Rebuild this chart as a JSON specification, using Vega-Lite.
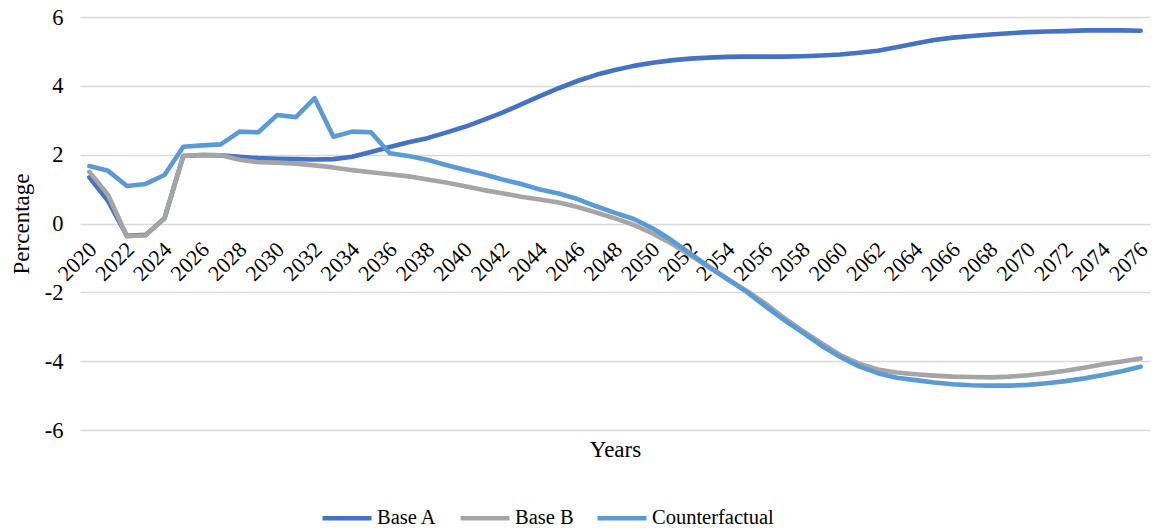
{
  "$schema": "https://vega.github.io/schema/vega-lite/v6.json",
  "width": 1070,
  "height": 413,
  "autosize": "none",
  "padding": {"left": 80, "top": 17, "right": 5, "bottom": 101},
  "background": "white",
  "config": {"view": {"stroke": null}, "font": "Liberation Serif"},
  "data": {"values": [
    {"year": 2020, "Base A": 1.34, "Base B": 1.50, "Counterfactual": 1.67},
    {"year": 2021, "Base A": 0.65, "Base B": 0.83, "Counterfactual": 1.53},
    {"year": 2022, "Base A": -0.36, "Base B": -0.37, "Counterfactual": 1.09},
    {"year": 2023, "Base A": -0.33, "Base B": -0.34, "Counterfactual": 1.15},
    {"year": 2024, "Base A": 0.15, "Base B": 0.15, "Counterfactual": 1.41},
    {"year": 2025, "Base A": 1.96, "Base B": 1.96, "Counterfactual": 2.23},
    {"year": 2026, "Base A": 1.99, "Base B": 1.99, "Counterfactual": 2.27},
    {"year": 2027, "Base A": 1.98, "Base B": 1.98, "Counterfactual": 2.30},
    {"year": 2028, "Base A": 1.94, "Base B": 1.85, "Counterfactual": 2.67},
    {"year": 2029, "Base A": 1.90, "Base B": 1.78, "Counterfactual": 2.65},
    {"year": 2030, "Base A": 1.88, "Base B": 1.77, "Counterfactual": 3.15},
    {"year": 2031, "Base A": 1.87, "Base B": 1.74, "Counterfactual": 3.09},
    {"year": 2032, "Base A": 1.86, "Base B": 1.69, "Counterfactual": 3.64},
    {"year": 2033, "Base A": 1.87, "Base B": 1.63, "Counterfactual": 2.52},
    {"year": 2034, "Base A": 1.94, "Base B": 1.55, "Counterfactual": 2.67},
    {"year": 2035, "Base A": 2.08, "Base B": 1.49, "Counterfactual": 2.65},
    {"year": 2036, "Base A": 2.22, "Base B": 1.43, "Counterfactual": 2.04},
    {"year": 2037, "Base A": 2.36, "Base B": 1.37, "Counterfactual": 1.96},
    {"year": 2038, "Base A": 2.48, "Base B": 1.28, "Counterfactual": 1.85},
    {"year": 2039, "Base A": 2.64, "Base B": 1.19, "Counterfactual": 1.70},
    {"year": 2040, "Base A": 2.81, "Base B": 1.08, "Counterfactual": 1.56},
    {"year": 2041, "Base A": 3.01, "Base B": 0.97, "Counterfactual": 1.43},
    {"year": 2042, "Base A": 3.22, "Base B": 0.88, "Counterfactual": 1.28},
    {"year": 2043, "Base A": 3.46, "Base B": 0.78, "Counterfactual": 1.15},
    {"year": 2044, "Base A": 3.70, "Base B": 0.70, "Counterfactual": 0.99},
    {"year": 2045, "Base A": 3.93, "Base B": 0.61, "Counterfactual": 0.87},
    {"year": 2046, "Base A": 4.14, "Base B": 0.48, "Counterfactual": 0.71},
    {"year": 2047, "Base A": 4.32, "Base B": 0.32, "Counterfactual": 0.50},
    {"year": 2048, "Base A": 4.46, "Base B": 0.15, "Counterfactual": 0.31},
    {"year": 2049, "Base A": 4.58, "Base B": -0.04, "Counterfactual": 0.13},
    {"year": 2050, "Base A": 4.67, "Base B": -0.29, "Counterfactual": -0.14},
    {"year": 2051, "Base A": 4.74, "Base B": -0.58, "Counterfactual": -0.48},
    {"year": 2052, "Base A": 4.79, "Base B": -0.92, "Counterfactual": -0.87},
    {"year": 2053, "Base A": 4.82, "Base B": -1.27, "Counterfactual": -1.25},
    {"year": 2054, "Base A": 4.84, "Base B": -1.62, "Counterfactual": -1.62},
    {"year": 2055, "Base A": 4.85, "Base B": -1.95, "Counterfactual": -1.98},
    {"year": 2056, "Base A": 4.85, "Base B": -2.32, "Counterfactual": -2.40},
    {"year": 2057, "Base A": 4.85, "Base B": -2.74, "Counterfactual": -2.80},
    {"year": 2058, "Base A": 4.86, "Base B": -3.12, "Counterfactual": -3.17},
    {"year": 2059, "Base A": 4.88, "Base B": -3.48, "Counterfactual": -3.55},
    {"year": 2060, "Base A": 4.91, "Base B": -3.82, "Counterfactual": -3.88},
    {"year": 2061, "Base A": 4.96, "Base B": -4.07, "Counterfactual": -4.15},
    {"year": 2062, "Base A": 5.02, "Base B": -4.24, "Counterfactual": -4.35},
    {"year": 2063, "Base A": 5.12, "Base B": -4.33, "Counterfactual": -4.48},
    {"year": 2064, "Base A": 5.23, "Base B": -4.38, "Counterfactual": -4.55},
    {"year": 2065, "Base A": 5.33, "Base B": -4.42, "Counterfactual": -4.62},
    {"year": 2066, "Base A": 5.40, "Base B": -4.45, "Counterfactual": -4.67},
    {"year": 2067, "Base A": 5.45, "Base B": -4.46, "Counterfactual": -4.70},
    {"year": 2068, "Base A": 5.49, "Base B": -4.47, "Counterfactual": -4.71},
    {"year": 2069, "Base A": 5.53, "Base B": -4.45, "Counterfactual": -4.71},
    {"year": 2070, "Base A": 5.56, "Base B": -4.41, "Counterfactual": -4.69},
    {"year": 2071, "Base A": 5.58, "Base B": -4.35, "Counterfactual": -4.64},
    {"year": 2072, "Base A": 5.59, "Base B": -4.28, "Counterfactual": -4.58},
    {"year": 2073, "Base A": 5.61, "Base B": -4.19, "Counterfactual": -4.50},
    {"year": 2074, "Base A": 5.61, "Base B": -4.09, "Counterfactual": -4.40},
    {"year": 2075, "Base A": 5.61, "Base B": -4.01, "Counterfactual": -4.29},
    {"year": 2076, "Base A": 5.60, "Base B": -3.92, "Counterfactual": -4.16}
  ]},
  "transform": [{"fold": ["Base A", "Base B", "Counterfactual"], "as": ["series", "value"]}],
  "mark": {"type": "line", "strokeWidth": 4.6, "strokeCap": "round", "strokeJoin": "round"},
  "encoding": {
    "x": {
      "field": "year", "type": "ordinal",
      "scale": {"type": "point", "padding": 0.5},
      "axis": {
        "values": [2020,2022,2024,2026,2028,2030,2032,2034,2036,2038,2040,2042,2044,2046,2048,2050,2052,2054,2056,2058,2060,2062,2064,2066,2068,2070,2072,2074,2076],
        "labelAngle": -45, "labelAlign": "right", "labelBaseline": "top",
        "labelPadding": 15, "labelOffset": -4, "ticks": false, "tickSize": 0, "domain": false, "grid": false,
        "labelOverlap": false, "labelFlush": false, "labelBound": false,
        "offset": -206.5,
        "labelFont": "Liberation Serif", "labelFontSize": 22, "labelColor": "#000000",
        "title": "Years", "titleFont": "Liberation Serif", "titleFontSize": 23,
        "titleFontWeight": "normal", "titleColor": "#000000",
        "titleY": 226, "titleBaseline": "middle"
      }
    },
    "y": {
      "field": "value", "type": "quantitative",
      "scale": {"domain": [-6, 6], "nice": false, "zero": false},
      "axis": {
        "values": [-6, -4, -2, 0, 2, 4, 6],
        "labelExpr": "replace(datum.label, '−', '-')",
        "grid": true, "gridColor": "#d9d9d9", "gridWidth": 1.3,
        "ticks": false, "tickSize": 0, "domain": false, "labelPadding": 17,
        "labelFont": "Liberation Serif", "labelFontSize": 22.5, "labelColor": "#000000",
        "title": "Percentage", "titleFont": "Liberation Serif", "titleFontSize": 23,
        "titleFontWeight": "normal", "titleColor": "#000000", "titlePadding": 11
      }
    },
    "color": {
      "field": "series", "type": "nominal",
      "scale": {"domain": ["Base A", "Base B", "Counterfactual"], "range": ["#4472C4", "#A5A5A5", "#5B9BD5"]},
      "legend": {
        "orient": "none", "legendX": 240, "legendY": 474, "direction": "horizontal",
        "symbolType": "stroke", "symbolSize": 2401, "symbolStrokeWidth": 4.6,
        "labelFont": "Liberation Serif", "labelFontSize": 20.5, "labelColor": "#000000",
        "title": null, "columnPadding": 14, "labelOffset": 3
      }
    }
  }
}
